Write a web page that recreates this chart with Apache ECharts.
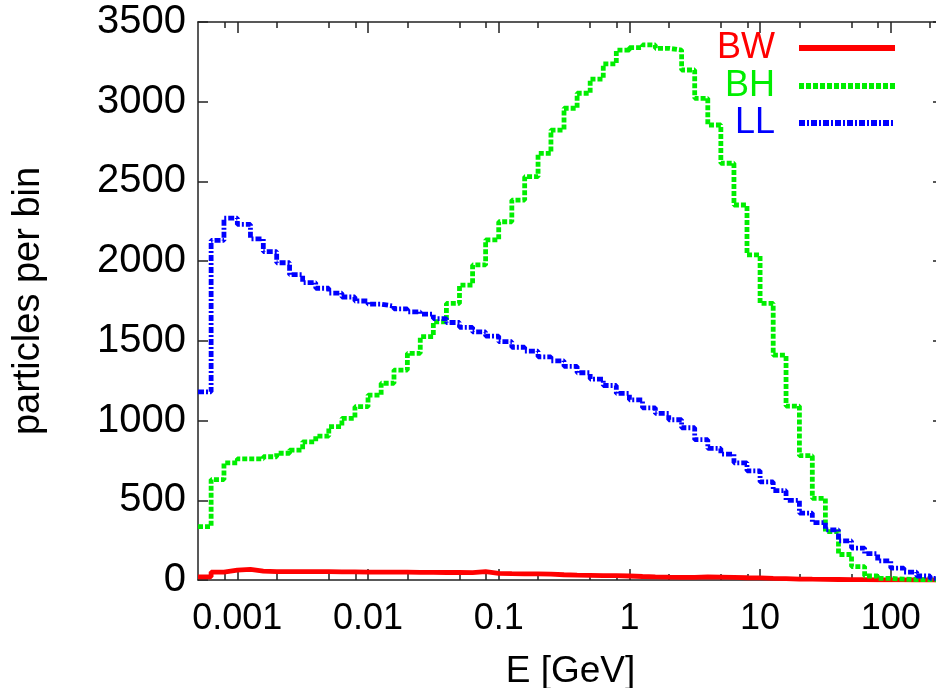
<!DOCTYPE html>
<html>
<head>
<meta charset="utf-8">
<script src="https://cdn.jsdelivr.net/npm/echarts@6/dist/echarts.min.js"></script>
<style>
  html, body { margin: 0; padding: 0; background: #fff; }
  #chart { width: 936px; height: 688px; }
</style>
</head>
<body>
<div id="chart"></div>
<script>
// energy spectrum, 3 pair-production models, log bins (10 per decade)
var chart = echarts.init(document.getElementById('chart'));

// bin edges in GeV (58 edges -> 57 bins)
var binEdges = [
  0.0005, 0.00063, 0.00079,
  0.001, 0.00126, 0.00158, 0.002, 0.00251, 0.00316, 0.00398, 0.00501, 0.00631, 0.00794,
  0.01, 0.0126, 0.0158, 0.02, 0.0251, 0.0316, 0.0398, 0.0501, 0.0631, 0.0794,
  0.1, 0.126, 0.158, 0.2, 0.251, 0.316, 0.398, 0.501, 0.631, 0.794,
  1, 1.26, 1.58, 2, 2.51, 3.16, 3.98, 5.01, 6.31, 7.94,
  10, 12.6, 15.8, 20, 25.1, 31.6, 39.8, 50.1, 63.1, 79.4,
  100, 126, 158, 200, 251
];

// particles per bin
var bwCounts = [
  20, 50, 62, 66, 56, 53, 53, 52, 52, 52, 51, 51, 50, 50, 50, 49, 48, 48, 47, 47,
  46, 52, 42, 40, 39, 38, 37, 33, 30, 29, 28, 27, 25, 22, 20, 18, 17, 16, 20, 18,
  16, 14, 13, 10, 8, 6, 5, 4, 3, 2, 2, 1, 1, 1, 0, 0, 0
];
var bhCounts = [
  335, 630, 735, 760, 760, 773, 795, 815, 867, 903, 962, 1014, 1087, 1160, 1234, 1317, 1422, 1526, 1620, 1735,
  1850, 1976, 2133, 2247, 2383, 2530, 2676, 2822, 2959, 3053, 3142, 3237, 3324, 3339, 3356, 3335, 3324, 3199, 3021, 2854,
  2614, 2352, 2039, 1735, 1411, 1091, 780, 512, 303, 160, 84, 25, 10, 5, 3, 2, 1
];
var llCounts = [
  1180, 2130, 2270, 2230, 2140, 2060, 1990, 1915, 1865, 1830, 1800, 1775, 1750, 1730, 1718, 1700, 1682, 1668, 1640, 1615,
  1585, 1556, 1530, 1495, 1460, 1435, 1400, 1375, 1340, 1300, 1260, 1220, 1170, 1130, 1080, 1045, 1005, 955, 880, 825,
  790, 735, 685, 615, 560, 500, 420, 360, 315, 245, 200, 165, 120, 75, 50, 25, 10
];

var seriesNames = ['BW', 'BH', 'LL'];
var colors = ['#ff0000', '#00ee00', '#0000ff'];
var dashes = ['solid', [5, 2], [6, 2, 2, 2]];

// tick values
var majorTicks = [0.001, 0.01, 0.1, 1, 10, 100];
var minorTicks = [0.0008, 0.002, 0.005, 0.008, 0.02, 0.05, 0.08, 0.2, 0.5, 0.8, 2, 5, 8, 20, 50, 80, 200];
var yTicks = [0, 500, 1000, 1500, 2000, 2500, 3000, 3500];

// histogram steps: each edge gets the value of the bin that starts there
function toSteps(counts) {
  var out = [];
  for (var i = 0; i < binEdges.length; i++) {
    out.push([binEdges[i], counts[Math.min(i, counts.length - 1)]]);
  }
  return out;
}

var font = 'Liberation Sans';
var axisColor = '#222';

function xAxisDef(pos, ticks, len, showLine, showLabel) {
  return {
    type: 'log',
    logBase: 10,
    min: 0.0005,
    max: 251,
    position: pos,
    gridIndex: 0,
    splitLine: { show: false },
    axisLine: { show: showLine, onZero: false, lineStyle: { color: axisColor, width: 1.5 } },
    axisTick: { show: true, inside: true, length: len, customValues: ticks, lineStyle: { color: axisColor, width: 1.5 } },
    axisLabel: {
      show: showLabel,
      customValues: majorTicks,
      color: '#000',
      fontFamily: font,
      fontSize: 36,
      margin: 21
    }
  };
}

var xMain = xAxisDef('bottom', majorTicks, 11, true, true);
xMain.name = 'E [GeV]';
xMain.nameLocation = 'middle';
xMain.nameGap = 73;
xMain.nameTextStyle = { color: '#000', fontFamily: font, fontSize: 37 };

function lineSeries(idx, counts) {
  return {
    name: seriesNames[idx],
    type: 'line',
    step: 'end',
    xAxisIndex: 0,
    yAxisIndex: 0,
    data: toSteps(counts),
    showSymbol: false,
    symbol: 'none',
    animation: false,
    color: colors[idx],
    lineStyle: { color: colors[idx], width: 4.8, type: dashes[idx], cap: 'butt' }
  };
}

// one legend per entry so the keys line up on the right
function legendDef(idx, top) {
  return {
    data: [seriesNames[idx]],
    right: 38,
    top: top,
    padding: 0,
    align: 'right',
    orient: 'vertical',
    itemWidth: 96,
    itemHeight: 14,
    selectedMode: false,
    itemStyle: { opacity: 0, borderWidth: 0 },
    lineStyle: { color: colors[idx], width: 6, type: dashes[idx], cap: 'butt' },
    textStyle: { color: colors[idx], fontFamily: font, fontSize: 36, padding: [0, 19, 0, 0] }
  };
}

var option = {
  backgroundColor: '#ffffff',
  animation: false,
  grid: {
    left: 198,
    right: -7,
    top: 22,
    bottom: 108,
    containLabel: false,
    outerBoundsMode: 'none'
  },
  legend: [legendDef(0, 30), legendDef(1, 68), legendDef(2, 105)],
  xAxis: [
    xMain,
    xAxisDef('bottom', minorTicks, 6, false, false),
    xAxisDef('top', majorTicks, 11, true, false),
    xAxisDef('top', minorTicks, 6, false, false)
  ],
  yAxis: [
    {
      type: 'value',
      min: 0,
      max: 3500,
      interval: 500,
      position: 'left',
      name: 'particles per bin',
      nameLocation: 'middle',
      nameGap: 150,
      nameTextStyle: { color: '#000', fontFamily: font, fontSize: 38 },
      splitLine: { show: false },
      axisLine: { show: true, lineStyle: { color: axisColor, width: 1.5 } },
      axisTick: { show: true, inside: true, length: 10, lineStyle: { color: axisColor, width: 1.5 } },
      axisLabel: {
        color: '#000',
        fontFamily: font,
        fontSize: 40,
        margin: 12,
        customValues: yTicks,
        formatter: function (v) { return String(v); }
      }
    },
    {
      type: 'value',
      min: 0,
      max: 3500,
      interval: 500,
      position: 'right',
      splitLine: { show: false },
      axisLine: { show: true, lineStyle: { color: axisColor, width: 1.5 } },
      axisTick: { show: true, inside: true, length: 10, lineStyle: { color: axisColor, width: 1.5 } },
      axisLabel: { show: false }
    }
  ],
  series: [
    lineSeries(0, bwCounts),
    lineSeries(1, bhCounts),
    lineSeries(2, llCounts)
  ]
};

chart.setOption(option);
</script>
</body>
</html>
